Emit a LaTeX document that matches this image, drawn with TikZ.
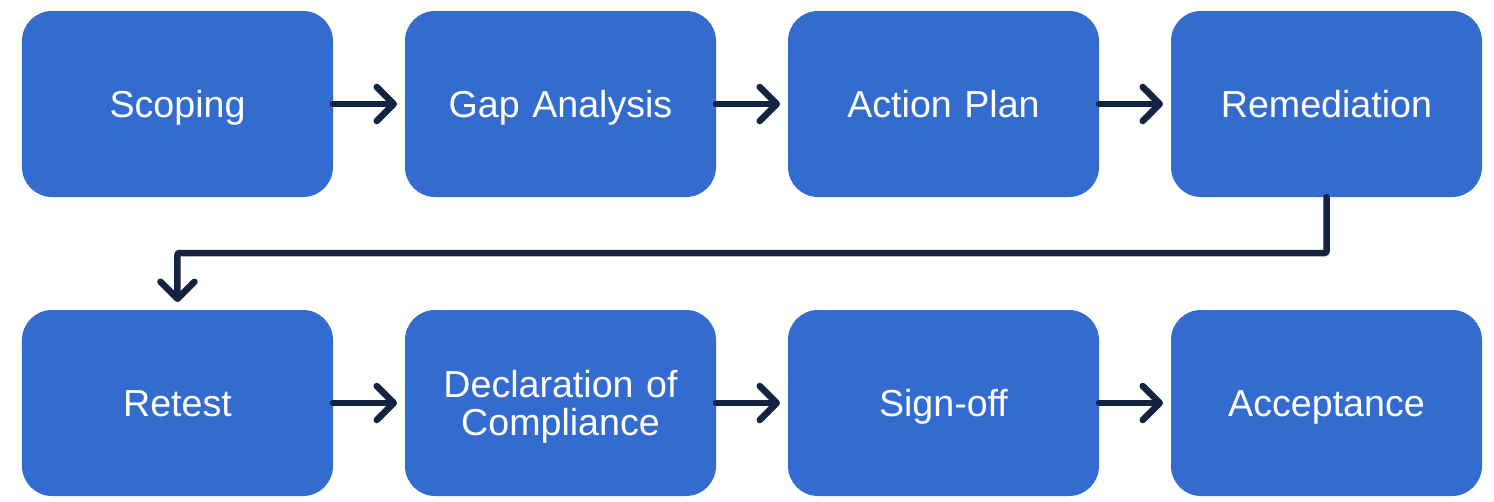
\documentclass[tikz,border=0pt]{standalone}
\usepackage{fontspec}
\setmainfont{Liberation Sans}
\usetikzlibrary{positioning,arrows.meta}
\definecolor{stageblue}{HTML}{346BCF}
\definecolor{flownavy}{HTML}{12243F}

\begin{document}
\begin{tikzpicture}[
    node distance=0.72cm and 0.72cm,
    stagebox/.style={rectangle, rounded corners=0.3cm, fill=stageblue, text=white,
        minimum width=3.11cm, minimum height=1.86cm, inner sep=0.05cm,
        text width=2.9cm, align=center, outer sep=0pt,
        font=\fontsize{10.7}{10.8}\selectfont,
        execute at begin node={\rule{0pt}{0.95em}},
        execute at end node={\rule[-0.234em]{0pt}{0pt}}},
    flow/.style={draw=flownavy, line width=0.065cm, line cap=round,
        -{Straight Barb[length=0.17cm, width=0.34cm, round]}, shorten >=0.08cm}
]
    \useasboundingbox (0,0) rectangle (14.94,-5.02);
    % Draw top row of stages
    \node (scope) [stagebox] at (1.775,-1.04) {Scoping};
    \node (gap) [stagebox, right=of scope] {Gap Analysis};
    \node (plan) [stagebox, right=of gap] {Action Plan};
    \node (remedy) [stagebox, right=of plan] {Remediation};
    % Draw bottom row of stages
    \node (retest) [stagebox, below=1.13cm of scope] {Retest};
    \node (declare) [stagebox, right=of retest] {Declaration of\\Compliance};
    \node (signoff) [stagebox, right=of declare] {Sign-off};
    \node (accept) [stagebox, right=of signoff] {Acceptance};
    % Draw connectors
    \draw[flow] (scope) -- (gap);
    \draw[flow] (gap) -- (plan);
    \draw[flow] (plan) -- (remedy);
    \draw[flow, rounded corners=0.02cm] (remedy.south) -- ++(0,-0.56) -| (retest.north);
    \draw[flow] (retest) -- (declare);
    \draw[flow] (declare) -- (signoff);
    \draw[flow] (signoff) -- (accept);
\end{tikzpicture}
\end{document}
